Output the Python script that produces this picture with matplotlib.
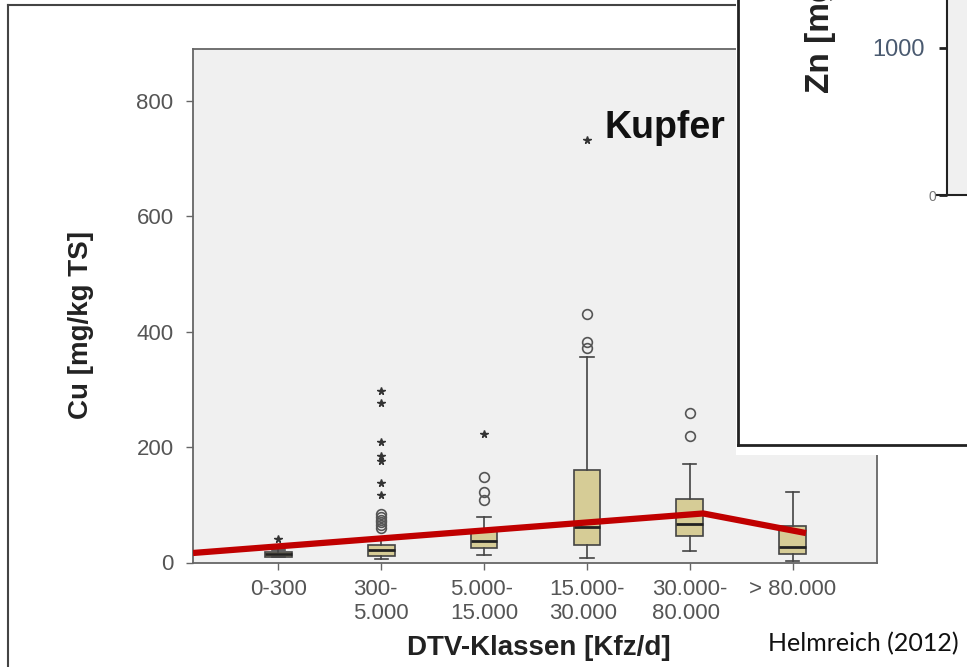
import matplotlib
matplotlib.use("Agg")
import matplotlib.pyplot as plt
from matplotlib.patches import Rectangle
from matplotlib.lines import Line2D

plt.rcParams['font.family'] = ['Liberation Sans', 'DejaVu Sans']

# Cu-Gehalte je DTV-Klasse
klassen = ['0-300', '300-\n5.000', '5.000-\n15.000', '15.000-\n30.000',
           '30.000-\n80.000', '> 80.000']
q1 = [10, 11, 25, 30, 46, 15]
median = [15, 21, 37, 61, 66, 26]
q3 = [19, 30, 55, 160, 110, 64]
whis_lo = [9, 6, 13, 7, 20, 2]
whis_hi = [22, 40, 79, 356, 171, 122]
ausreisser = [[], [60, 65, 70, 74, 79, 84], [108, 123, 148], [371, 382, 431], [219, 259], []]
extremwerte = [[40], [117, 137, 176, 185, 208, 277, 298], [223], [732], [], []]

# rote Trendlinie
trend_x = [-0.83, 4.13, 5.13]
trend_y = [16.5, 85, 51]

W, H = 967, 667
def fx(x):
    return x / W
def fy(y):
    return 1 - y / H

fig = plt.figure(figsize=(9.67, 6.67), dpi=100)
fig.patch.set_facecolor('white')

ax = fig.add_axes([fx(193), fy(562.5), fx(877) - fx(193), fy(49) - fy(562.5)])
ax.set_facecolor('#f0f0f0')
for s in ax.spines.values():
    s.set_color('#666666')
    s.set_linewidth(1.3)

pos = list(range(len(klassen)))
stats = []
for i in pos:
    stats.append(dict(med=median[i], q1=q1[i], q3=q3[i],
                      whislo=whis_lo[i], whishi=whis_hi[i], fliers=[]))
ax.bxp(stats, positions=pos, widths=0.26, capwidths=0.13, showfliers=False,
       patch_artist=True,
       boxprops=dict(facecolor='#d6cc96', edgecolor='#444444', linewidth=1.2),
       whiskerprops=dict(color='#444444', linewidth=1.2),
       capprops=dict(color='#444444', linewidth=1.2),
       medianprops=dict(color='#222222', linewidth=2))

for i in pos:
    if ausreisser[i]:
        ax.plot([i] * len(ausreisser[i]), ausreisser[i], 'o', ms=7,
                mfc='none', mec='#555555', mew=1.2)
    if extremwerte[i]:
        ax.plot([i] * len(extremwerte[i]), extremwerte[i], '*', ms=5.5,
                color='#333333')

ax.plot(trend_x, trend_y, color='#c00000', lw=4.5, solid_capstyle='butt', zorder=5)

ax.set_xlim(-0.83, 5.82)
ax.set_ylim(0, 890)
ax.set_yticks([0, 200, 400, 600, 800])
ax.set_xticks(pos)
ax.set_xticklabels(klassen, multialignment='left', linespacing=1.2)
ax.tick_params(axis='both', colors='#666666', labelcolor='#555555',
               labelsize=16, length=5, width=1)
ax.tick_params(axis='x', pad=7)
ax.tick_params(axis='y', pad=9)

ax.set_ylabel('Cu [mg/kg TS]', fontsize=20, fontweight='bold', color='#222222')
ax.yaxis.set_label_coords(-0.145, 0.4625)
ax.set_xlabel('DTV-Klassen [Kfz/d]', fontsize=20, fontweight='bold', color='#222222')
ax.xaxis.set_label_coords(0.505, -0.141)

ax.text(3.175, 735, 'Kupfer', fontsize=27, fontweight='bold', color='#111111',
        ha='left', va='baseline')

# aeusserer Rahmen
fig.lines.append(Line2D([fx(8), fx(738)], [fy(5), fy(5)], color='#444444', lw=1.5,
                        transform=fig.transFigure))
fig.lines.append(Line2D([fx(8), fx(8)], [fy(5), 0], color='#444444', lw=1.5,
                        transform=fig.transFigure))

# ueberlagertes Zink-Diagramm oben rechts
fig.patches.append(Rectangle((fx(736), fy(455)), 1 - fx(736), 1 - fy(455) + 0.01,
                             transform=fig.transFigure, facecolor='white',
                             edgecolor='none', zorder=4))
fig.lines.append(Line2D([fx(738), fx(738)], [fy(445), 1.01], color='#222222', lw=2,
                        transform=fig.transFigure, zorder=6))
fig.lines.append(Line2D([fx(738), 1.01], [fy(445), fy(445)], color='#222222', lw=2,
                        transform=fig.transFigure, zorder=6))

zn = fig.add_axes([fx(947), fy(195), 0.1, fy(0) - fy(195) + 0.2], zorder=5)
zn.set_facecolor('#f0f0f0')
zn.set_ylim(0, (195 + 0.2 * H) / 147 * 1000)
zn.set_xlim(0, 1)
zn.set_yticks([0, 1000])
zn.set_yticklabels(['', '1000'])
zn.set_xticks([])
zn.spines['top'].set_visible(False)
zn.spines['right'].set_visible(False)
for s in ['left', 'bottom']:
    zn.spines[s].set_color('#222222')
    zn.spines[s].set_linewidth(1.5)
zn.tick_params(axis='y', length=6, width=2, color='#222222',
               labelcolor='#4a5a70', labelsize=17, pad=10)
fig.lines.append(Line2D([fx(937), fx(947)], [fy(195), fy(195)], color='#222222', lw=1.5,
                        transform=fig.transFigure, zorder=6))
fig.text(fx(932), fy(197), '0', fontsize=10, color='#777777', ha='center', va='center',
         zorder=6)
fig.text(fx(820), fy(93), 'Zn [mg/kg TS]', fontsize=24, fontweight='bold',
         color='#222222', rotation=90, ha='center', va='bottom', zorder=6)

fig.text(fx(768), fy(651), 'Helmreich (2012)', fontsize=18, family='Lato',
         color='#111111', ha='left', va='baseline')

fig.savefig('out.png', dpi=100)
